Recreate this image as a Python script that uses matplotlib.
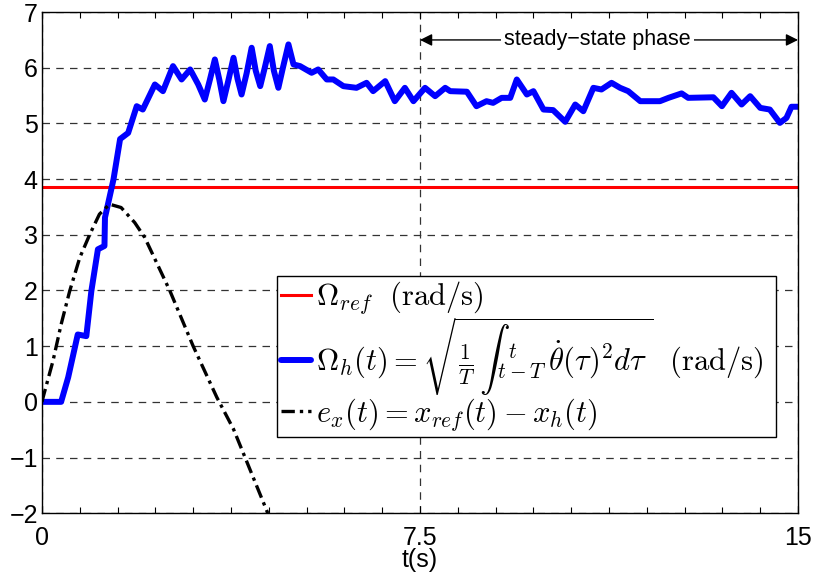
import numpy as np
import matplotlib
matplotlib.use("Agg")
import matplotlib.pyplot as plt
from matplotlib.ticker import MultipleLocator

plt.rcParams['mathtext.fontset'] = 'cm'
plt.rcParams['font.family'] = ['Liberation Sans', 'DejaVu Sans']

# reference speed (rad/s)
omega_ref = 3.85

# human RMS speed Omega_h(t)
t_h = [0.0, 0.38, 0.52, 0.71, 0.88, 0.98, 1.11, 1.24, 1.25, 1.29, 1.42, 1.55, 1.71,
       1.88, 2.0, 2.24, 2.4, 2.6, 2.77, 2.94, 3.1, 3.23, 3.33, 3.43, 3.52, 3.6,
       3.7, 3.8, 3.88, 3.96, 4.06, 4.16, 4.24, 4.33, 4.42, 4.52, 4.6, 4.69, 4.78,
       4.89, 4.99, 5.12, 5.35, 5.48, 5.65, 5.78, 5.98,
       6.24, 6.44, 6.57, 6.81, 7.0, 7.2, 7.37, 7.6, 7.8, 8.0, 8.1, 8.43, 8.62,
       8.82, 8.95, 9.12, 9.29, 9.42, 9.62, 9.75, 9.95, 10.14, 10.38, 10.58,
       10.74, 10.94, 11.1, 11.3, 11.47, 11.63, 11.87, 12.26, 12.43, 12.69,
       12.82, 13.32, 13.49, 13.68, 13.88, 14.05, 14.25, 14.44, 14.64, 14.77,
       14.87, 15.0]
omega_h = [0.0, 0.0, 0.44, 1.21, 1.18, 1.99, 2.74, 2.8, 3.31, 3.47, 4.0, 4.72, 4.83,
           5.31, 5.25, 5.7, 5.58, 6.03, 5.79, 5.97, 5.7, 5.43, 5.78, 6.15, 5.78, 5.4,
           5.78, 6.18, 5.8, 5.52, 5.9, 6.36, 5.95, 5.67, 6.0, 6.39, 5.95, 5.64, 6.0,
           6.42, 6.06, 6.03, 5.91, 5.97, 5.79, 5.79, 5.67,
           5.64, 5.73, 5.58, 5.76, 5.4, 5.64, 5.4, 5.64, 5.49, 5.64, 5.58, 5.57,
           5.31, 5.4, 5.37, 5.46, 5.46, 5.79, 5.52, 5.58, 5.25, 5.24, 5.03, 5.34,
           5.22, 5.64, 5.61, 5.73, 5.64, 5.58, 5.4, 5.4, 5.46, 5.54, 5.46, 5.47,
           5.31, 5.55, 5.34, 5.49, 5.28, 5.25, 5.01, 5.1, 5.3, 5.3]

# tracking error e_x(t)
t_e = [0.0, 0.04, 0.22, 0.38, 0.55, 0.75, 0.95, 1.14, 1.34, 1.57, 1.84, 2.04,
       2.54, 3.0, 3.47, 3.8, 4.03, 4.48]
e_x = [0.0, 0.14, 0.74, 1.39, 1.99, 2.59, 3.01, 3.37, 3.55, 3.49, 3.22, 2.95,
       1.99, 1.0, 0.08, -0.49, -1.0, -2.0]

fig = plt.figure(figsize=(8.18, 5.76), dpi=100)
ax = fig.add_axes([0.0513, 0.109, 0.9243, 0.870])

ax.plot([0, 15], [omega_ref, omega_ref], color='red', lw=2.2,
        label=r'$\Omega_{ref}\ \ \mathrm{(rad/s)}$')
ax.plot(t_h, omega_h, color='blue', lw=4.3, solid_joinstyle='round',
        solid_capstyle='round',
        label=r'$\Omega_h(t) = \sqrt{\frac{1}{T}\,\int{}_{t-T}^{\;\;t}\,\dot{\theta}(\tau)^2 d\tau\,}\ \ \mathrm{(rad/s)}$')
ax.plot(t_e, e_x, color='black', lw=2.4, linestyle=(0, (4, 1.5, 1, 1.5)),
        label=r'$e_x(t) = x_{ref}(t) - x_h(t)$')

ax.set_xlim(0, 15)
ax.set_ylim(-2, 7)
ax.set_xticks([0, 7.5, 15])
ax.set_xticklabels(['0', '7.5', '15'])
ax.set_yticks(range(-2, 8))
ax.set_yticklabels([str(v).replace('-', '\u2212') for v in range(-2, 8)])
ax.xaxis.set_minor_locator(MultipleLocator(0.75))
ax.tick_params(which='both', direction='in', top=True, right=False, labelsize=18,
               width=0.8, colors='black')
ax.tick_params(axis='x', which='major', length=5, pad=9)
ax.tick_params(axis='x', which='minor', length=4)
ax.tick_params(axis='y', which='major', length=0, pad=3)
ax.grid(True, which='major', linestyle=(0, (6, 5)), color='#333333', lw=0.9)
for s in ax.spines.values():
    s.set_linewidth(1.0)

ax.set_xlabel('t(s)', fontsize=18, labelpad=-1)

# steady-state arrow
ax.annotate('', xy=(7.5, 6.5), xytext=(15, 6.5),
            arrowprops=dict(arrowstyle='<|-|>', color='black', lw=1.0,
                            mutation_scale=18, shrinkA=0, shrinkB=0))
ax.text(11.02, 6.5, 'steady\u2212state phase', fontsize=15.5, ha='center', va='center',
        bbox=dict(facecolor='white', edgecolor='none', pad=2))

leg = ax.legend(loc='lower left', bbox_to_anchor=(0.311, 0.152, 0.66, 0.309),
                mode='expand', fontsize=22, handlelength=1.0, handletextpad=0.15,
                borderaxespad=0, borderpad=0.12, labelspacing=-0.05, fancybox=False,
                framealpha=1)
leg.get_frame().set_edgecolor('black')
leg.get_frame().set_linewidth(1.0)

fig.savefig('out.png', dpi=100)
